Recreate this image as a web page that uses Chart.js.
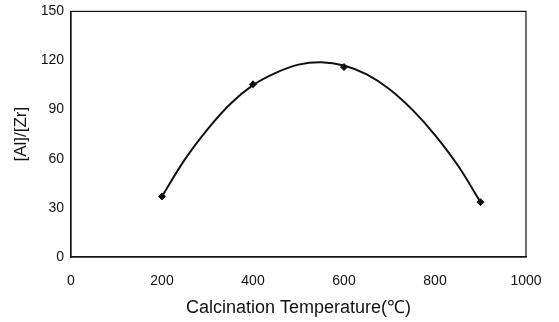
<!DOCTYPE html>
<html>
<head>
<meta charset="utf-8">
<script src="https://cdn.jsdelivr.net/npm/chart.js@4/dist/chart.umd.min.js"></script>
<style>
  html, body { margin: 0; padding: 0; background: #fff; }
  #wrap { width: 559px; height: 322px; position: relative; }
</style>
</head>
<body>
<div id="wrap"><canvas id="c"></canvas></div>
<script>
// 측정점 (소성 온도 vs [Al]/[Zr])
const temps = [200, 400, 600, 900];
const ratios = [37, 105.5, 116, 33.5];
// 추세선 — 그림에서 읽은 값
const fitTemps = [200, 250, 300, 350, 400, 450, 500, 550, 600, 650, 700, 750, 800, 850, 900];
const fitRatios = [37, 59.5, 78, 93.5, 105, 112.5, 117.5, 119, 117, 111.5, 102.5, 90, 74.5, 56, 33.5];
const xTicks = [0, 200, 400, 600, 800, 1000];
const yTicks = [0, 30, 60, 90, 120, 150];

const font = "'Liberation Sans', Arial, sans-serif";

// 플롯 영역 테두리
const frame = {
  id: "frame",
  afterDraw(chart) {
    const a = chart.chartArea, ctx = chart.ctx;
    ctx.save();
    ctx.strokeStyle = "#111";
    ctx.lineWidth = 1.2;
    ctx.strokeRect(a.left, a.top, a.right - a.left, a.bottom - a.top);
    ctx.restore();
  },
};

new Chart(document.getElementById("c"), {
  type: "scatter",
  data: {
    datasets: [
      {
        data: fitTemps.map((t, i) => ({ x: t, y: fitRatios[i] })),
        showLine: true,
        borderColor: "#111",
        borderWidth: 2,
        tension: 0.4,
        pointRadius: 0,
        order: 2,
      },
      {
        data: temps.map((t, i) => ({ x: t, y: ratios[i] })),
        pointStyle: "rectRot",
        pointRadius: 3.5,
        pointBackgroundColor: "#111",
        pointBorderColor: "#111",
        order: 1,
      },
    ],
  },
  options: {
    responsive: true,
    maintainAspectRatio: false,
    animation: false,
    layout: { padding: { top: 10, right: 33, left: 0, bottom: 0 } },
    plugins: { legend: { display: false }, tooltip: { enabled: false } },
    scales: {
      x: {
        type: "linear", min: 0, max: 1000,
        afterBuildTicks: (s) => { s.ticks = xTicks.map((v) => ({ value: v })); },
        afterFit: (s) => { s.height = 65; },
        grid: { display: false, drawTicks: true, tickLength: 3, tickColor: "#111" },
        border: { color: "#111", width: 1.2 },
        ticks: {
          color: "#111", font: { family: font, size: 14 }, padding: 13,
          callback: (v) => String(v),
        },
        title: {
          display: true, text: "Calcination Temperature(℃)", color: "#111",
          font: { family: font, size: 18 }, padding: { top: 0, bottom: 3 },
        },
      },
      y: {
        min: 0, max: 150,
        afterBuildTicks: (s) => { s.ticks = yTicks.map((v) => ({ value: v })); },
        afterFit: (s) => { s.width = 71; },
        grid: { display: false, drawTicks: true, tickLength: 4, tickColor: "#111" },
        border: { color: "#111", width: 1.2 },
        ticks: { color: "#111", font: { family: font, size: 14 }, padding: 3 },
        title: {
          display: true, text: "[Al]/[Zr]", color: "#111",
          font: { family: font, size: 17 }, padding: { top: 11, bottom: 0 },
        },
      },
    },
  },
  plugins: [frame],
});
</script>
</body>
</html>
